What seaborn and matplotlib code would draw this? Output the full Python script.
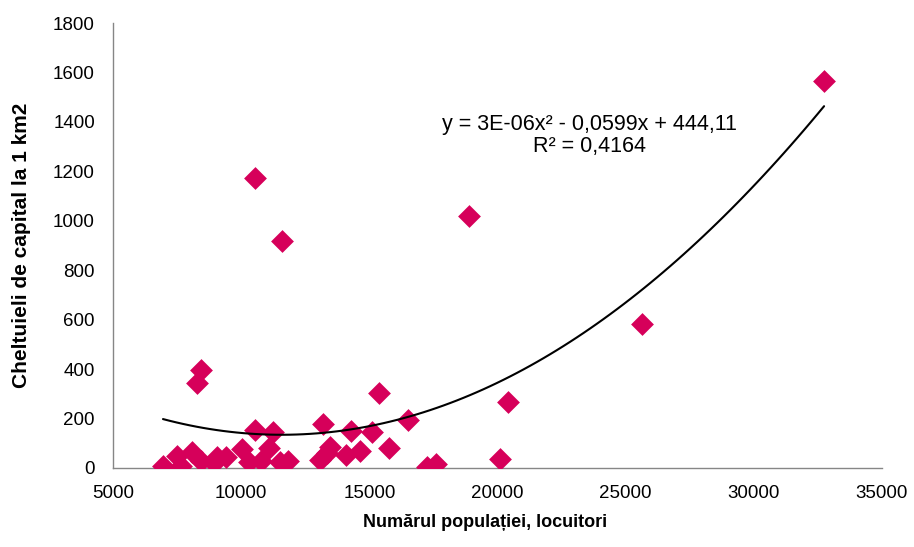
import matplotlib
matplotlib.use("Agg")
import matplotlib.pyplot as plt
import seaborn as sns
import pandas as pd

# populatie (locuitori) si cheltuieli de capital la 1 km2
populatie = [6950, 7490, 7650, 8070, 8270, 8420, 8420, 8930, 9050, 9400,
             10020, 10290, 10530, 10530, 10760, 11070, 11230, 11500, 11580, 11810,
             13090, 13210, 13330, 13480, 14100, 14300, 14650, 15120, 15390, 15780,
             16520, 17260, 17610, 18890, 20100, 20410, 25620, 32740]
cheltuieli = [8, 49, 8, 65, 344, 396, 28, 20, 45, 45,
              77, 24, 154, 1173, 28, 81, 146, 24, 918, 28,
              32, 178, 61, 85, 53, 150, 69, 146, 303, 81,
              194, 4, 16, 1019, 36, 267, 583, 1566]

df = pd.DataFrame({"pop": populatie, "chelt": cheltuieli})

sns.set_style("white")
plt.rcParams["font.family"] = ["Liberation Sans", "DejaVu Sans"]
plt.rcParams["text.color"] = "black"
plt.rcParams["axes.labelcolor"] = "black"

fig = plt.figure(figsize=(9.14, 5.47), dpi=100)
ax = fig.add_axes([113 / 914, 1 - 468 / 547, (882 - 113) / 914, (468 - 23) / 547])

sns.regplot(data=df, x="pop", y="chelt", order=2, ci=None, ax=ax,
            marker="D", color="#D6005A",
            scatter_kws={"s": 135, "linewidths": 0, "alpha": 1, "zorder": 3},
            line_kws={"color": "black", "lw": 1.5, "zorder": 4})

ax.set_xlim(5000, 35000)
ax.set_ylim(0, 1800)
ax.set_xticks(range(5000, 35001, 5000))
ax.set_yticks(range(0, 1801, 200))
ax.set_xlabel("Numărul populației, locuitori", fontsize=13, fontweight="bold")
ax.set_ylabel("Cheltuieli de capital la 1 km2", fontsize=15, fontweight="bold")
ax.xaxis.set_label_coords(0.484, -0.103)
ax.yaxis.set_label_coords(-0.106, 0.5)

for side in ["top", "right"]:
    ax.spines[side].set_visible(False)
for side in ["left", "bottom"]:
    ax.spines[side].set_color("#868686")
    ax.spines[side].set_linewidth(1)
ax.tick_params(axis="both", direction="out", length=5, color="#868686",
               labelcolor="black", labelsize=13.5)
ax.tick_params(axis="x", pad=7)
ax.tick_params(axis="y", pad=8)

ax.text(23600, 1345, "y = 3E-06x² - 0,0599x + 444,11\nR² = 0,4164",
        ha="center", va="center", fontsize=15.5, linespacing=1.1)

fig.savefig("out.png", dpi=100)
